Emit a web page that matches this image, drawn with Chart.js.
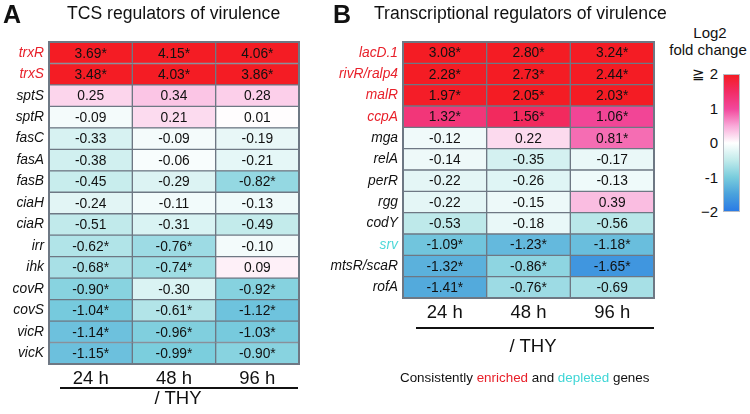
<!DOCTYPE html>
<html>
<head>
<meta charset="utf-8">
<script src="https://cdn.jsdelivr.net/npm/chart.js@4.4.1/dist/chart.umd.min.js"></script>
<style>
  body { margin: 0; background: #fff; font-family: "Liberation Sans", Arial, sans-serif; color: #111; }
  #wrap { position: relative; width: 750px; height: 414px; overflow: hidden; }
  .abs { position: absolute; white-space: nowrap; }
  .panel { font-weight: bold; font-size: 25px; line-height: 1; }
  .title { font-size: 17.6px; line-height: 1; }
  .thy { font-size: 18.5px; line-height: 1; transform: translate(-50%, -50%); }
  .rule { background: #111; height: 2px; }
  .cb { font-size: 15px; line-height: 1; }
</style>
</head>
<body>
<div id="wrap">
  <canvas id="chartA" class="abs" style="left:0;top:0"></canvas>
  <canvas id="chartB" class="abs" style="left:330px;top:0"></canvas>

  <div class="abs panel" style="left:3px;top:2px">A</div>
  <div class="abs title" style="left:67px;top:5px">TCS regulators of virulence</div>
  <div class="abs panel" style="left:333px;top:2px">B</div>
  <div class="abs title" style="left:374px;top:5px">Transcriptional regulators of virulence</div>

  <div class="abs rule" style="left:60px;top:387px;width:238px"></div>
  <div class="abs thy" style="left:178px;top:398px">/ THY</div>
  <div class="abs rule" style="left:416px;top:327px;width:238px"></div>
  <div class="abs thy" style="left:533px;top:346px">/ THY</div>

  <div class="abs" style="left:400px;top:370px;font-size:13.4px">Consistently <span style="color:#e8202a">enriched</span> and <span style="color:#3fd6d6">depleted</span> genes</div>

  <div class="abs cb" style="left:710px;top:32px;transform:translate(-50%,-50%)">Log2</div>
  <div class="abs cb" style="left:708px;top:49px;transform:translate(-50%,-50%)">fold change</div>
  <div id="colorbar" class="abs" style="left:723px;top:74px;width:17px;height:138px;box-sizing:border-box;border:1px solid #b8bcc4"></div>
  <div id="cbTicks"></div>
</div>

<script>
// heatmap A — TCS regulators
const genesA = ['trxR', 'trxS', 'sptS', 'sptR', 'fasC', 'fasA', 'fasB', 'ciaH', 'ciaR', 'irr', 'ihk', 'covR', 'covS', 'vicR', 'vicK'];
const a24 = [3.69, 3.48, 0.25, -0.09, -0.33, -0.38, -0.45, -0.24, -0.51, -0.62, -0.68, -0.90, -1.04, -1.14, -1.15];
const a48 = [4.15, 4.03, 0.34, 0.21, -0.09, -0.06, -0.29, -0.11, -0.31, -0.76, -0.74, -0.30, -0.61, -0.96, -0.99];
const a96 = [4.06, 3.86, 0.28, 0.01, -0.19, -0.21, -0.82, -0.13, -0.49, -0.10, 0.09, -0.92, -1.12, -1.03, -0.90];
const sigA24 = [1, 1, 0, 0, 0, 0, 0, 0, 0, 1, 1, 1, 1, 1, 1];
const sigA48 = [1, 1, 0, 0, 0, 0, 0, 0, 0, 1, 1, 0, 1, 1, 1];
const sigA96 = [1, 1, 0, 0, 0, 0, 1, 0, 0, 0, 0, 1, 1, 1, 1];
const labelColorsA = ['#e8202a', '#e8202a', '#111', '#111', '#111', '#111', '#111', '#111', '#111', '#111', '#111', '#111', '#111', '#111', '#111'];

// heatmap B — transcriptional regulators
const genesB = ['lacD.1', 'rivR/ralp4', 'malR', 'ccpA', 'mga', 'relA', 'perR', 'rgg', 'codY', 'srv', 'mtsR/scaR', 'rofA'];
const b24 = [3.08, 2.28, 1.97, 1.32, -0.12, -0.14, -0.22, -0.22, -0.53, -1.09, -1.32, -1.41];
const b48 = [2.80, 2.73, 2.05, 1.56, 0.22, -0.35, -0.26, -0.15, -0.18, -1.23, -0.86, -0.76];
const b96 = [3.24, 2.44, 2.03, 1.06, 0.81, -0.17, -0.13, 0.39, -0.56, -1.18, -1.65, -0.69];
const sigB24 = [1, 1, 1, 1, 0, 0, 0, 0, 0, 1, 1, 1];
const sigB48 = [1, 1, 1, 1, 0, 0, 0, 0, 0, 1, 1, 1];
const sigB96 = [1, 1, 1, 1, 1, 0, 0, 0, 0, 1, 1, 0];
const labelColorsB = ['#e8202a', '#e8202a', '#e8202a', '#e8202a', '#111', '#111', '#111', '#111', '#111', '#4fd8d8', '#111', '#111'];

const times = ['24 h', '48 h', '96 h'];

// colour scale (log2 fold change)
const scaleStops = [-2, -1.5, -1, -0.5, 0, 0.5, 1, 1.5, 2];
const scaleColors = ['#2a7be6', '#4aa2dc', '#7acddd', '#c2ebeb', '#ffffff', '#f9aad9', '#f2489c', '#f22c66', '#f41c24'];
const cbTickValues = [2, 1, 0, -1, -2];
const cbTickLabels = ['≧ 2', '1', '0', '-1', '−2'];

const FONT = '"Liberation Sans", Arial, sans-serif';

function hexToRgb(h) {
    return [parseInt(h.slice(1, 3), 16), parseInt(h.slice(3, 5), 16), parseInt(h.slice(5, 7), 16)];
}

function colorFor(v) {
    const x = Math.max(scaleStops[0], Math.min(scaleStops[scaleStops.length - 1], v));
    for (let i = 0; i < scaleStops.length - 1; i++) {
        if (x <= scaleStops[i + 1]) {
            const t = (x - scaleStops[i]) / (scaleStops[i + 1] - scaleStops[i]);
            const c0 = hexToRgb(scaleColors[i]), c1 = hexToRgb(scaleColors[i + 1]);
            const c = c0.map((a, k) => Math.round(a + (c1[k] - a) * t));
            return `rgb(${c[0]},${c[1]},${c[2]})`;
        }
    }
    return scaleColors[scaleColors.length - 1];
}

// texte des cellules + cadre extérieur
const cellText = {
    id: 'cellText',
    afterDatasetsDraw(chart) {
        const ctx = chart.ctx;
        ctx.save();
        ctx.font = `13.8px ${FONT}`;
        ctx.fillStyle = '#111';
        ctx.textAlign = 'center';
        ctx.textBaseline = 'middle';
        chart.data.datasets.forEach((ds, di) => {
            chart.getDatasetMeta(di).data.forEach((bar, i) => {
                const v = ds.values[i];
                const txt = v.toFixed(2) + (ds.sig[i] ? '*' : '');
                ctx.fillText(txt, (bar.x + bar.base) / 2, bar.y + 1);
            });
        });
        const a = chart.chartArea;
        ctx.strokeStyle = '#6e7884';
        ctx.lineWidth = 2;
        ctx.strokeRect(a.left, a.top, a.right - a.left, a.bottom - a.top);
        ctx.restore();
    }
};

function makeHeatmap(id, genes, cols, sigs, labelColors, yWidth, width, height) {
    const canvas = document.getElementById(id);
    canvas.width = width;
    canvas.height = height;
    new Chart(canvas, {
        type: 'bar',
        data: {
            labels: genes,
            datasets: cols.map((vals, k) => ({
                label: times[k],
                values: vals,
                sig: sigs[k],
                data: vals.map(() => 1),
                backgroundColor: c => colorFor(c.dataset.values[c.dataIndex]),
                borderColor: '#6e7884',
                borderWidth: 1,
                borderSkipped: false,
                barPercentage: 1,
                categoryPercentage: 1
            }))
        },
        options: {
            indexAxis: 'y',
            responsive: false,
            animation: false,
            devicePixelRatio: 1,
            layout: { padding: { top: 42, right: 1, left: 0, bottom: 0 } },
            plugins: { legend: { display: false }, tooltip: { enabled: false } },
            scales: {
                x: {
                    stacked: true,
                    min: 0,
                    max: 3,
                    grid: { display: false, drawTicks: false },
                    border: { display: false },
                    afterBuildTicks: s => { s.ticks = [0.5, 1.5, 2.5].map(v => ({ value: v })); },
                    afterFit: s => { s.height = 30; },
                    ticks: {
                        autoSkip: false,
                        maxRotation: 0,
                        padding: 4,
                        color: '#111',
                        font: { family: FONT, size: 18.5 },
                        callback: v => times[Math.floor(v)]
                    }
                },
                y: {
                    stacked: true,
                    grid: { display: false, drawTicks: false },
                    border: { display: false },
                    afterFit: s => { s.width = yWidth; },
                    ticks: {
                        padding: 5,
                        color: c => labelColors[c.index],
                        font: { family: FONT, size: 13.8, style: 'italic' }
                    }
                }
            }
        },
        plugins: [cellText]
    });
}

makeHeatmap('chartA', genesA, [a24, a48, a96], [sigA24, sigA48, sigA96], labelColorsA, 49, 300, 394);
makeHeatmap('chartB', genesB, [b24, b48, b96], [sigB24, sigB48, sigB96], labelColorsB, 73, 325, 328);

// barre de couleur
const cb = document.getElementById('colorbar');
const grad = scaleStops.map((s, i) => `${scaleColors[i]} ${((s + 2) / 4 * 100).toFixed(1)}%`).join(', ');
cb.style.background = `linear-gradient(to top, ${grad})`;
const cbTicks = document.getElementById('cbTicks');
cbTickValues.forEach((v, i) => {
    const d = document.createElement('div');
    d.className = 'abs cb';
    d.style.right = (750 - 718) + 'px';
    d.style.top = (74 + (2 - v) / 4 * 138 - 8) + 'px';
    d.textContent = cbTickLabels[i];
    cbTicks.appendChild(d);
});
</script>
</body>
</html>
